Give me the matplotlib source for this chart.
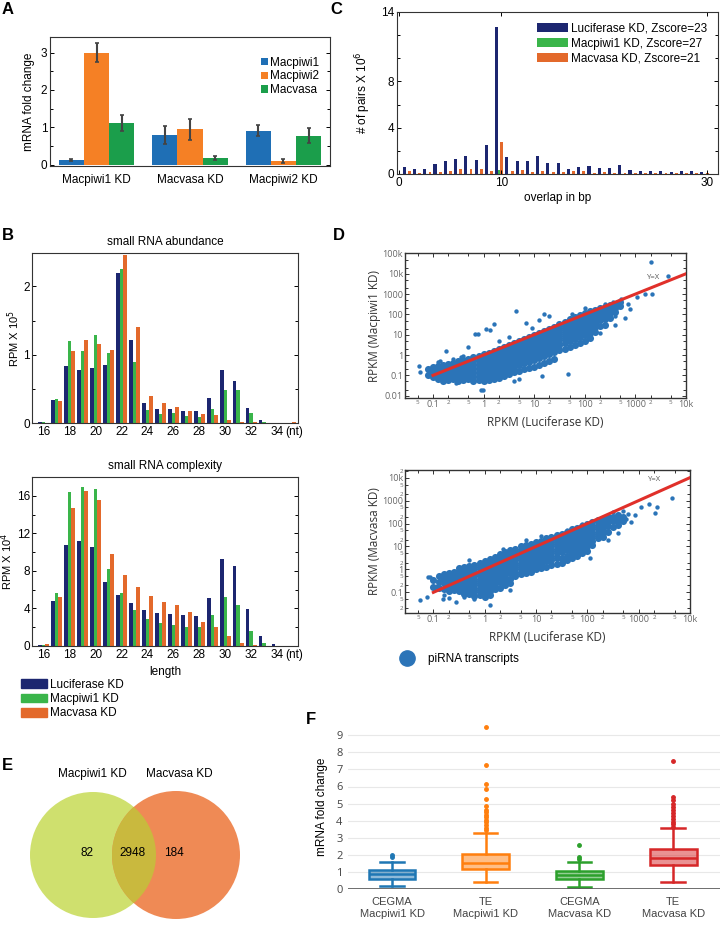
import numpy as np
import matplotlib
matplotlib.use('Agg')
import matplotlib.pyplot as plt
from matplotlib.patches import Circle, Patch
from matplotlib.lines import Line2D
from matplotlib.ticker import MultipleLocator

plt.rcParams['font.family'] = ['Liberation Sans', 'DejaVu Sans']

# ---------------- data ----------------
# A: qPCR
a_groups = ['Macpiwi1 KD', 'Macvasa KD', 'Macpiwi2 KD']
a_piwi1 = [0.12, 0.78, 0.91]
a_piwi1_err = [0.03, 0.24, 0.14]
a_piwi2 = [3.0, 0.95, 0.09]
a_piwi2_err = [0.25, 0.28, 0.05]
a_vasa = [1.12, 0.17, 0.77]
a_vasa_err = [0.22, 0.06, 0.2]

# C: ping-pong overlap
c_overlap = list(range(1, 31))
c_luc = [0.63, 0.43, 0.43, 0.86, 1.15, 1.27, 1.55, 1.24, 2.5, 12.7,
         1.5, 1.1, 1.1, 1.55, 0.95, 0.95, 0.46, 0.63, 0.72, 0.55,
         0.55, 0.75, 0.35, 0.29, 0.26, 0.29, 0.2, 0.29, 0.23, 0.2]
c_piwi1 = [0, 0, 0, 0, 0, 0, 0, 0, 0, 0.35,
           0, 0, 0, 0, 0, 0, 0, 0, 0, 0,
           0, 0, 0, 0, 0, 0, 0, 0, 0, 0]
c_vasa = [0.23, 0.12, 0.15, 0.15, 0.26, 0.4, 0.46, 0.4, 0.26, 2.73,
          0.29, 0.37, 0.2, 0.26, 0.17, 0.14, 0.23, 0.29, 0.09, 0.17,
          0.12, 0.12, 0.09, 0.12, 0.09, 0.09, 0.09, 0.09, 0.09, 0.09]

# B: small RNA length distributions (16..35 nt)
b_len = list(range(16, 36))
b_abund_luc = [0.015, 0.33, 0.83, 0.77, 0.8, 0.85, 2.2, 1.22, 0.3, 0.21,
               0.2, 0.17, 0.17, 0.37, 0.77, 0.61, 0.22, 0.05, 0.005, 0.003]
b_abund_piwi1 = [0.015, 0.35, 1.2, 1.06, 1.29, 1.02, 2.25, 0.89, 0.19, 0.13,
                 0.14, 0.1, 0.09, 0.2, 0.49, 0.49, 0.15, 0.02, 0.005, 0.003]
b_abund_vasa = [0.005, 0.32, 1.05, 1.22, 1.15, 1.07, 2.46, 1.4, 0.39, 0.29,
                0.24, 0.18, 0.13, 0.12, 0.05, 0.02, 0.01, 0.005, 0.005, 0.01]
b_cplx_luc = [0.15, 4.8, 10.8, 11.15, 10.55, 6.8, 5.45, 4.55, 3.85, 3.5,
              3.45, 3.25, 3.15, 5.15, 9.3, 8.55, 3.9, 1.1, 0.2, 0.05]
b_cplx_piwi1 = [0.15, 5.6, 16.35, 16.95, 16.75, 8.15, 5.6, 3.8, 2.85, 2.4,
                2.2, 2.0, 2.0, 3.25, 5.25, 4.35, 1.65, 0.3, 0.05, 0.05]
b_cplx_vasa = [0.18, 5.2, 14.7, 16.55, 15.5, 9.85, 7.6, 6.25, 5.3, 4.7,
               4.4, 3.6, 2.6, 2.05, 1.1, 0.35, 0.1, 0.03, 0.05, 0.05]

# D: RPKM scatter, log10 values (columns of the dense cloud)
piwi1_cloud = [
    (-1.1, [-0.7, -1.0]),
    (-1.0, [-0.6, -0.85, -1.1]),
    (-0.9, [-0.55, -0.8, -1.0, -1.2]),
    (-0.8, [-0.5, -0.7, -0.9, -1.1, -1.3]),
    (-0.7, [-0.45, -0.65, -0.85, -1.05, -1.25]),
    (-0.6, [-0.4, -0.6, -0.8, -1.0, -1.2]),
    (-0.5, [-0.3, -0.5, -0.7, -0.9, -1.1, -1.3]),
    (-0.4, [-0.25, -0.45, -0.65, -0.85, -1.05, -1.25]),
    (-0.3, [-0.2, -0.4, -0.6, -0.8, -1.0, -1.2]),
    (-0.2, [-0.1, -0.3, -0.5, -0.7, -0.9, -1.1, -1.3]),
    (-0.1, [-0.05, -0.25, -0.45, -0.65, -0.85, -1.05, -1.25]),
    (0.0, [0.05, -0.15, -0.35, -0.55, -0.75, -0.95, -1.15, -1.3]),
    (0.1, [0.1, -0.1, -0.3, -0.5, -0.7, -0.9, -1.1, -1.25]),
    (0.2, [0.2, 0.0, -0.2, -0.4, -0.6, -0.8, -1.0, -1.2]),
    (0.3, [0.3, 0.1, -0.1, -0.3, -0.5, -0.7, -0.9, -1.15]),
    (0.4, [0.4, 0.2, 0.0, -0.2, -0.4, -0.6, -0.8, -1.05]),
    (0.5, [0.5, 0.3, 0.1, -0.1, -0.3, -0.5, -0.7, -0.95]),
    (0.6, [0.6, 0.4, 0.2, 0.0, -0.2, -0.4, -0.6, -0.85]),
    (0.7, [0.7, 0.5, 0.3, 0.1, -0.1, -0.3, -0.5, -0.8]),
    (0.8, [0.8, 0.6, 0.4, 0.2, 0.0, -0.2, -0.4, -0.7]),
    (0.9, [0.9, 0.7, 0.5, 0.3, 0.1, -0.1, -0.35, -0.65]),
    (1.0, [1.0, 0.8, 0.6, 0.4, 0.2, 0.0, -0.25, -0.6]),
    (1.1, [1.1, 0.9, 0.7, 0.5, 0.3, 0.1, -0.15, -0.5]),
    (1.2, [1.2, 1.0, 0.8, 0.6, 0.4, 0.2, -0.05, -0.4]),
    (1.3, [1.3, 1.1, 0.9, 0.7, 0.5, 0.3, 0.05, -0.3]),
    (1.4, [1.4, 1.2, 1.0, 0.8, 0.6, 0.4, 0.15, -0.2]),
    (1.5, [1.55, 1.35, 1.15, 0.95, 0.75, 0.5, 0.25]),
    (1.6, [1.65, 1.45, 1.25, 1.05, 0.85, 0.6, 0.3]),
    (1.7, [1.75, 1.55, 1.35, 1.15, 0.95, 0.7, 0.4]),
    (1.8, [1.85, 1.65, 1.45, 1.25, 1.05, 0.8, 0.5]),
    (1.9, [1.95, 1.75, 1.55, 1.35, 1.15, 0.9, 0.6]),
    (2.0, [2.05, 1.85, 1.65, 1.45, 1.25, 1.0, 0.7]),
    (2.1, [2.15, 1.95, 1.75, 1.55, 1.35, 1.1, 0.85]),
    (2.2, [2.2, 2.0, 1.8, 1.6, 1.4, 1.15]),
    (2.3, [2.3, 2.1, 1.9, 1.7, 1.45]),
    (2.4, [2.35, 2.15, 1.95, 1.75, 1.5]),
    (2.5, [2.45, 2.25, 2.05, 1.8]),
    (2.6, [2.5, 2.3, 2.1]),
    (2.7, [2.6, 2.4]),
]
piwi1_out_lx = [-1.28, -1.25, -0.9, -0.86, -0.6, -0.55, -0.4, -0.16, -0.12, 0.04,
                0.12, 0.21, 0.3, -0.3, 0.5, 0.64, 0.83, 0.95, 1.1, 1.3,
                1.2, -0.06, -0.01, 1.16, 1.66, 0.7, 3.31, 3.64, 3.33, 3.18,
                3.03, 2.9, 2.8, 2.6, 2.71, 2.55, 2.85, 2.3, 2.6, 2.4,
                1.75, 2.0, 0.6, -0.75, -0.45]
piwi1_out_ly = [-0.55, -0.85, -0.35, -0.3, -0.2, -1.4, -0.05, 1.04, 1.04, 1.3,
                1.25, 1.55, 0.7, 0.4, 0.9, 2.17, 1.6, 1.35, 1.7, 1.9,
                2.0, -1.74, -1.74, -1.05, -0.95, -1.2, 4.56, 3.88, 3.01, 2.98,
                2.86, 2.29, 1.84, 1.46, 2.76, 2.6, 2.5, 1.1, 1.9, 2.5,
                2.0, 2.3, -1.3, 0.2, -0.1]

vasa_cloud = [
    (-1.0, [-0.45, -0.75]),
    (-0.9, [-0.3, -0.55, -0.8]),
    (-0.8, [-0.2, -0.4, -0.6, -0.85]),
    (-0.7, [-0.15, -0.35, -0.55, -0.75, -0.95]),
    (-0.6, [-0.1, -0.3, -0.5, -0.7, -0.9]),
    (-0.5, [0.05, -0.15, -0.35, -0.55, -0.75, -0.95]),
    (-0.4, [0.1, -0.1, -0.3, -0.5, -0.7, -0.9, -1.05]),
    (-0.3, [0.15, -0.05, -0.25, -0.45, -0.65, -0.85, -1.05]),
    (-0.2, [0.2, 0.0, -0.2, -0.4, -0.6, -0.8, -1.0, -1.15]),
    (-0.1, [0.3, 0.1, -0.1, -0.3, -0.5, -0.7, -0.9, -1.1]),
    (0.0, [0.35, 0.15, -0.05, -0.25, -0.45, -0.65, -0.85, -1.05, -1.2]),
    (0.1, [0.45, 0.25, 0.05, -0.15, -0.35, -0.55, -0.75, -0.95, -1.1]),
    (0.2, [0.55, 0.35, 0.15, -0.05, -0.25, -0.45, -0.65, -0.85]),
    (0.3, [0.65, 0.45, 0.25, 0.05, -0.15, -0.35, -0.55, -0.8]),
    (0.4, [0.75, 0.55, 0.35, 0.15, -0.05, -0.25, -0.45, -0.7]),
    (0.5, [0.85, 0.65, 0.45, 0.25, 0.05, -0.15, -0.4, -0.6]),
    (0.6, [0.9, 0.7, 0.5, 0.3, 0.1, -0.1, -0.3]),
    (0.7, [1.0, 0.8, 0.6, 0.4, 0.2, 0.0, -0.2]),
    (0.8, [1.05, 0.85, 0.65, 0.45, 0.25, 0.05, -0.15]),
    (0.9, [1.1, 0.9, 0.7, 0.5, 0.3, 0.1, -0.1]),
    (1.0, [1.2, 1.0, 0.8, 0.6, 0.4, 0.2, 0.0]),
    (1.1, [1.25, 1.05, 0.85, 0.65, 0.45, 0.25, 0.05]),
    (1.2, [1.35, 1.15, 0.95, 0.75, 0.55, 0.35, 0.1]),
    (1.3, [1.4, 1.2, 1.0, 0.8, 0.6, 0.4, 0.2]),
    (1.4, [1.5, 1.3, 1.1, 0.9, 0.7, 0.5, 0.25]),
    (1.5, [1.55, 1.35, 1.15, 0.95, 0.75, 0.5, 0.3]),
    (1.6, [1.65, 1.45, 1.25, 1.05, 0.85, 0.6, 0.4]),
    (1.7, [1.75, 1.55, 1.35, 1.15, 0.95, 0.7, 0.5]),
    (1.8, [1.8, 1.6, 1.4, 1.2, 1.0, 0.8, 0.6]),
    (1.9, [1.9, 1.7, 1.5, 1.3, 1.1, 0.9, 0.7]),
    (2.0, [2.0, 1.8, 1.6, 1.4, 1.2, 1.0, 0.8]),
    (2.1, [2.05, 1.85, 1.65, 1.45, 1.25, 1.05]),
    (2.2, [2.15, 1.95, 1.75, 1.55, 1.35]),
    (2.3, [2.2, 2.0, 1.8, 1.6, 1.4]),
    (2.4, [2.3, 2.1, 1.9, 1.65]),
    (2.5, [2.3, 2.1, 1.85]),
    (2.6, [2.35, 2.15, 1.95]),
    (2.7, [2.3, 2.1]),
]
vasa_out_lx = [-1.26, -1.13, -1.1, -1.07, -0.92, -0.82, -0.8, -0.7, -0.55, -0.4,
               0.1, -0.2, 0.5, 0.35, -0.3, 0.8, 1.1, 1.6, 2.05, 2.4,
               2.6, 2.75, 2.8, 2.85, 2.92, 3.05, 3.2, 3.31, 3.35, 3.64,
               2.5, 2.7, 1.9]
vasa_out_ly = [-1.33, -1.19, -0.35, -0.33, -0.72, -1.3, -1.1, -1.25, -1.4, -1.2,
               -1.55, -1.3, -0.9, 0.9, 0.4, 1.3, 1.45, 1.7, 0.5, 1.3,
               1.6, 2.2, 2.4, 2.05, 2.36, 2.72, 2.87, 2.46, 2.72, 3.12,
               2.5, 2.55, 2.0]

# E: Venn counts
e_only_piwi1 = 82
e_both = 2948
e_only_vasa = 184

# F: box plot statistics
f_labels = ['CEGMA\nMacpiwi1 KD', 'TE\nMacpiwi1 KD', 'CEGMA\nMacvasa KD', 'TE\nMacvasa KD']
f_med = [0.89, 1.55, 0.83, 1.8]
f_q1 = [0.6, 1.18, 0.58, 1.41]
f_q3 = [1.09, 2.05, 1.05, 2.33]
f_whislo = [0.15, 0.39, 0.1, 0.41]
f_whishi = [1.59, 3.26, 1.57, 3.57]
f_fliers = [
    [1.86, 1.99],
    [3.45, 3.6, 3.75, 3.9, 4.05, 4.2, 4.35, 4.5, 4.65, 4.84, 5.29, 5.87, 6.16, 7.23, 9.46],
    [1.74, 1.86, 2.56],
    [3.65, 3.8, 3.95, 4.1, 4.3, 4.45, 4.6, 4.8, 5.0, 5.23, 5.39, 7.48],
]

# ---------------- figure ----------------
W, H = 720, 927
fig = plt.figure(figsize=(7.2, 9.27), dpi=100)


def px_axes(l, t, r, b):
    return fig.add_axes([l / W, 1 - b / H, (r - l) / W, (b - t) / H])


def matlab_box(ax):
    for s in ax.spines.values():
        s.set_color('#333333')
        s.set_linewidth(0.8)
    ax.tick_params(which='both', direction='in', top=True, right=True,
                   length=3, width=0.7, labelsize=8.5, pad=2)
    ax.tick_params(which='minor', length=2)


def label(x, y, s):
    fig.text(x / W, 1 - y / H, s, fontsize=12, fontweight='bold', ha='left', va='center')


NAVY, GREEN, ORANGE = '#1c2670', '#3ab54a', '#e3692b'

# ---- A ----
ax = px_axes(50, 37, 330, 166)
xa = np.arange(1, 4)
w = 0.27
errkw = dict(ecolor='#444444', elinewidth=1.5, capsize=1.5, capthick=1.2)
ax.bar(xa - w, a_piwi1, w, yerr=a_piwi1_err, color='#1f6fb5', label='Macpiwi1', error_kw=errkw)
ax.bar(xa, a_piwi2, w, yerr=a_piwi2_err, color='#f58025', label='Macpiwi2', error_kw=errkw)
ax.bar(xa + w, a_vasa, w, yerr=a_vasa_err, color='#1b9e4b', label='Macvasa', error_kw=errkw)
ax.set_xlim(0.5, 3.5)
ax.set_ylim(-0.04, 3.42)
ax.set_xticks(xa, a_groups)
ax.set_yticks([0, 1, 2, 3])
ax.yaxis.set_minor_locator(MultipleLocator(0.5))
matlab_box(ax)
ax.tick_params(axis='x', which='both', length=0, pad=6)
ax.set_ylabel('mRNA fold change', fontsize=8.5, labelpad=4)
ax.legend(loc='upper right', bbox_to_anchor=(1.0, 0.93), frameon=False, fontsize=8.5,
          handlelength=0.6, handleheight=0.6, handletextpad=0.2, labelspacing=0.15)
label(2, 10, 'A')

# ---- C ----
ax = px_axes(397, 12, 718, 174)
xc = np.array(c_overlap)
ax.bar(xc - 0.47, c_luc, 0.3, color=NAVY, label='Luciferase KD, Zscore=23')
ax.bar(xc - 0.17, c_piwi1, 0.28, color=GREEN, label='Macpiwi1 KD, Zscore=27')
ax.bar(xc + 0.04, c_vasa, 0.28, color=ORANGE, label='Macvasa KD, Zscore=21')
ax.set_xlim(-0.17, 31.1)
ax.set_ylim(0, 14)
ax.set_xticks([0, 10, 30])
ax.set_yticks([0, 4, 8, 14])
ax.yaxis.set_minor_locator(MultipleLocator(2))
matlab_box(ax)
ax.set_ylabel('# of pairs X 10$^6$', fontsize=8.5, labelpad=6)
ax.set_xlabel('overlap in bp', fontsize=8.5, labelpad=2)
ax.legend(loc='upper right', bbox_to_anchor=(1.0, 1.0), frameon=False, fontsize=8.5,
          handlelength=2.6, handleheight=0.8, handletextpad=0.3, labelspacing=0.25)
label(330, 10, 'C')

# ---- B ----
xb = np.array(b_len)
bw = 0.28
for (t, b, vals, ytop, major, minor, ylab, title) in [
        (253, 423, (b_abund_luc, b_abund_piwi1, b_abund_vasa), 2.49, [0, 1, 2], 0.5,
         'RPM X 10$^5$', 'small RNA abundance'),
        (477, 646, (b_cplx_luc, b_cplx_piwi1, b_cplx_vasa), 18.0, [0, 4, 8, 12, 16], 2,
         'RPM X 10$^4$', 'small RNA complexity')]:
    ax = px_axes(32, t, 298, b)
    ax.bar(xb - bw, vals[0], bw, color=NAVY)
    ax.bar(xb, vals[1], bw, color=GREEN)
    ax.bar(xb + bw, vals[2], bw, color=ORANGE)
    ax.set_xlim(15.1, 35.6)
    ax.set_ylim(0, ytop)
    ax.set_xticks(list(range(16, 35, 2)) + [35.3], [str(v) for v in range(16, 35, 2)] + ['(nt)'])
    ax.set_yticks(major)
    ax.yaxis.set_minor_locator(MultipleLocator(minor))
    matlab_box(ax)
    ax.tick_params(axis='x', which='both', length=0)
    ax.tick_params(axis='y', pad=1.5)
    ax.set_ylabel(ylab, fontsize=8, labelpad=1)
    ax.set_title(title, fontsize=8.5, pad=6)
    last_b = ax
last_b.set_xlabel('length', fontsize=8.5, labelpad=4)
label(2, 235, 'B')
fig.legend(handles=[Patch(color=NAVY, label='Luciferase KD'),
                    Patch(color=GREEN, label='Macpiwi1 KD'),
                    Patch(color=ORANGE, label='Macvasa KD')],
           loc='upper left', bbox_to_anchor=(16 / W, 1 - 674 / H), frameon=False, fontsize=8.5,
           handlelength=2.2, handleheight=0.75, handletextpad=0.3, labelspacing=0.2,
           borderaxespad=0)

# ---- D ----
PT = '#2b74b8'
x_major = [0.1, 1, 10, 100, 1000, 10000]
x_major_lab = ['0.1', '1', '10', '100', '1000', '10k']
x_minor = [0.05, 0.2, 0.5, 2, 5, 20, 50, 200, 500, 2000, 5000]
x_minor_lab = ['5', '2', '5', '2', '5', '2', '5', '2', '5', '2', '5']


def rpkm_panel(t, b, r, cloud, out_lx, out_ly, ylim, ymaj, ymaj_lab, ymin, ymin_lab, ylab, yx_pos):
    ax = px_axes(405, t, r, b)
    lx = [c for c, ys in cloud for _ in ys]
    ly = [y for c, ys in cloud for y in ys]
    ax.scatter(10 ** np.array(lx), 10 ** np.array(ly), s=26, color=PT, linewidths=0, zorder=2)
    ax.scatter(10 ** np.array(out_lx), 10 ** np.array(out_ly), s=10, color=PT, linewidths=0, zorder=2)
    ax.plot([0.1, 10000], [0.1, 10000], color='#e0302a', lw=2.2, zorder=3)
    ax.set_xscale('log')
    ax.set_yscale('log')
    ax.set_xlim(0.028, 10000)
    ax.set_ylim(*ylim)
    ax.set_xticks(x_major, x_major_lab)
    ax.set_xticks(x_minor, x_minor_lab, minor=True)
    ax.set_yticks(ymaj, ymaj_lab)
    ax.set_yticks(ymin, ymin_lab, minor=True)
    for s in ax.spines.values():
        s.set_color('#333333')
        s.set_linewidth(1.0)
    ax.tick_params(which='both', direction='in', top=True, right=True, width=0.7,
                   colors='#333333', labelcolor='#666666', pad=1.5)
    ax.tick_params(which='major', length=3, labelsize=6.5)
    ax.tick_params(which='minor', length=2, labelsize=4.5)
    for tl in ax.get_xticklabels(which='both') + ax.get_yticklabels(which='both'):
        tl.set_fontfamily('Open Sans')
    ax.set_xlabel('RPKM (Luciferase KD)', fontsize=8.5, color='#333333', fontfamily='Open Sans', labelpad=5)
    ax.set_ylabel(ylab, fontsize=8.5, color='#333333', fontfamily='Open Sans', labelpad=1)
    ax.text(yx_pos[0], yx_pos[1], 'Y=X', fontsize=5.5, color='#555555', ha='center', va='center',
            fontfamily='Open Sans')
    return ax


rpkm_panel(253, 398, 686, piwi1_cloud, piwi1_out_lx, piwi1_out_ly, (0.0077, 1.05e5),
           [0.01, 0.1, 1, 10, 100, 1000, 10000, 100000],
           ['0.01', '0.1', '1', '10', '100', '1000', '10k', '100k'],
           [0.02, 0.05, 0.2, 0.5, 2, 5, 20, 50, 200, 500, 2000, 5000, 20000, 50000],
           [''] * 14, 'RPKM (Macpiwi1 KD)', (2300, 6800))
rpkm_panel(470, 613, 690, vasa_cloud, vasa_out_lx, vasa_out_ly, (0.0126, 2.15e4),
           [0.1, 1, 10, 100, 1000, 10000],
           ['0.1', '1', '10', '100', '1000', '10k'],
           [0.02, 0.05, 0.2, 0.5, 2, 5, 20, 50, 200, 500, 2000, 5000, 20000],
           ['2', '5', '2', '5', '2', '5', '2', '5', '2', '5', '2', '5', '2'],
           'RPKM (Macvasa KD)', (2000, 8000))
label(333, 235, 'D')
fig.legend(handles=[Line2D([], [], marker='o', ls='', color=PT, markersize=11)],
           labels=['piRNA transcripts'], loc='center left', bbox_to_anchor=(390 / W, 1 - 659 / H),
           frameon=False, fontsize=8.5, handletextpad=0.8, borderaxespad=0)

# ---- E ----
ax = fig.add_axes([0, 0, 300 / W, 210 / H])
ax.set_xlim(0, 300)
ax.set_ylim(927, 717)
ax.axis('off')
left = Circle((93, 855), 63, color='#cfe06e', lw=0)
right = Circle((176, 855), 64, color='#ef8a55', lw=0)
ax.add_patch(left)
ax.add_patch(right)
over = Circle((93, 855), 63, color='#c9b93e', lw=0)
ax.add_patch(over)
over.set_clip_path(Circle((176, 855), 64, transform=ax.transData))
ax.text(92, 774, 'Macpiwi1 KD', fontsize=8.5, ha='center', va='center')
ax.text(179, 774, 'Macvasa KD', fontsize=8.5, ha='center', va='center')
ax.text(87, 853, str(e_only_piwi1), fontsize=8.5, ha='center', va='center')
ax.text(133, 853, str(e_both), fontsize=8.5, ha='center', va='center')
ax.text(174, 853, str(e_only_vasa), fontsize=8.5, ha='center', va='center')
label(2, 765, 'E')

# ---- F ----
ax = px_axes(348, 725, 720, 889)
cols = ['#1f77b4', '#ff7f0e', '#2ca02c', '#d62728']
stats = [dict(med=f_med[i], q1=f_q1[i], q3=f_q3[i], whislo=f_whislo[i],
              whishi=f_whishi[i], fliers=f_fliers[i]) for i in range(4)]
bp = ax.bxp(stats, positions=[1, 2, 3, 4], widths=0.5, patch_artist=True, zorder=3)
for i, c in enumerate(cols):
    bp['boxes'][i].set_edgecolor(c)
    bp['boxes'][i].set_linewidth(1.8)
    bp['boxes'][i].set_facecolor(matplotlib.colors.to_rgba(c, 0.5))
    bp['medians'][i].set(color=c, linewidth=1.8)
    for k in (2 * i, 2 * i + 1):
        bp['whiskers'][k].set(color=c, linewidth=1.8)
        bp['caps'][k].set(color=c, linewidth=1.8)
    bp['fliers'][i].set(marker='o', markerfacecolor=c, markeredgecolor=c, markersize=2.5)
ax.set_xlim(0.53, 4.5)
ax.set_ylim(0, 9.6)
ax.set_yticks(range(10))
ax.set_xticks([1, 2, 3, 4], f_labels)
ax.grid(axis='y', color='#e8e8e8', lw=0.8, zorder=0)
for s in ax.spines.values():
    s.set_visible(False)
ax.axhline(0, color='#555555', lw=1.2, zorder=4)
ax.tick_params(axis='both', length=0, labelsize=8, colors='#444444')
ax.tick_params(axis='y', pad=4)
ax.tick_params(axis='x', pad=6)
for tl in ax.get_yticklabels():
    tl.set_fontfamily('Open Sans')
ax.set_ylabel('mRNA fold change', fontsize=8.5, labelpad=6)
label(306, 719, 'F')

fig.savefig('out.png', dpi=100)
